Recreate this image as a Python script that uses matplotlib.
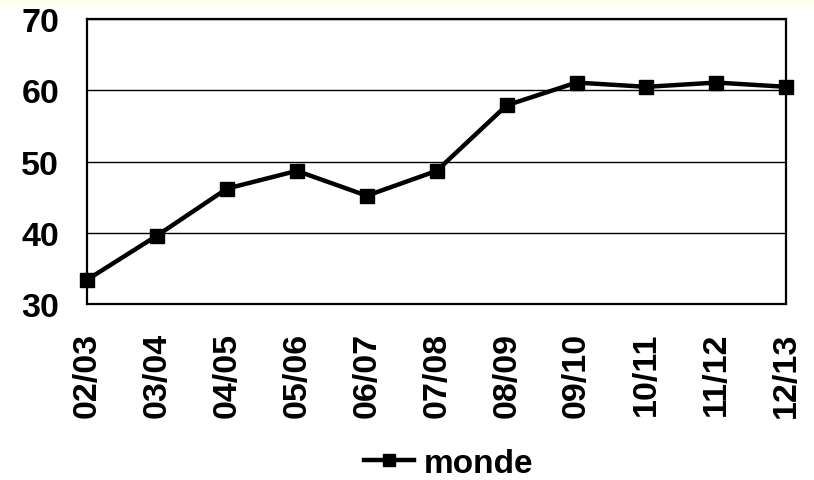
import matplotlib.pyplot as plt
from matplotlib.patches import Rectangle

plt.rcParams['font.family'] = ['Liberation Sans', 'DejaVu Sans']

# data
years = ['02/03', '03/04', '04/05', '05/06', '06/07', '07/08',
         '08/09', '09/10', '10/11', '11/12', '12/13']
monde = [33.4, 39.6, 46.2, 48.7, 45.2, 48.7, 57.9, 61.1, 60.5, 61.1, 60.5]
yticks = [30, 40, 50, 60, 70]

fig = plt.figure(figsize=(8.14, 4.81), dpi=100)
fig.patches.append(Rectangle((0, 0.988), 1, 0.012, transform=fig.transFigure,
                             color='#fffff0', zorder=0))
ax = fig.add_axes([0.107, 0.366, 0.859, 0.592])

x = list(range(len(years)))
ax.plot(x, monde, color='black', lw=3.2, marker='s', ms=10, clip_on=False,
        label='monde', zorder=3)

ax.set_xlim(0, len(years) - 1)
ax.set_ylim(30, 70)
ax.set_yticks(yticks)
ax.set_xticks(x)
ax.set_xticklabels(years, rotation=90)
ax.yaxis.grid(True, color='black', lw=1)
ax.set_axisbelow(True)
for s in ax.spines.values():
    s.set_linewidth(1.6)
ax.tick_params(length=0, labelsize=24.5)
ax.tick_params(axis='y', pad=20)
ax.tick_params(axis='x', pad=20)
for t in ax.get_xticklabels() + ax.get_yticklabels():
    t.set_fontweight('bold')

ax.legend(loc='center', bbox_to_anchor=(0.517, -0.56), frameon=False,
          prop={'size': 24, 'weight': 'bold'}, handlelength=1.5,
          handletextpad=0.3, markerscale=0.9)

fig.savefig('out.png', dpi=100, facecolor='white')
